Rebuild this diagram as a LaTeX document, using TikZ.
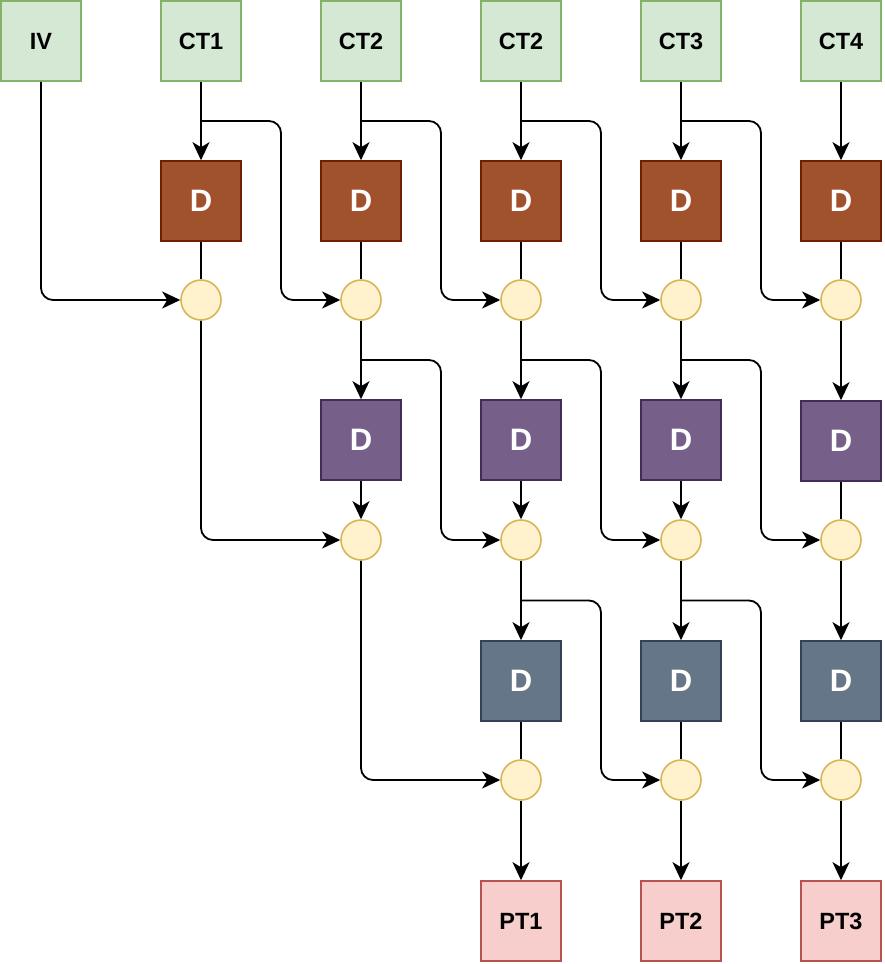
\documentclass[tikz,border=0pt]{standalone}
\usepackage{fontspec}
\setmainfont{Liberation Sans}
\usetikzlibrary{arrows.meta,calc}
\definecolor{gfill}{HTML}{D5E8D4}\definecolor{gline}{HTML}{82B366}
\definecolor{bfill}{HTML}{A0522D}\definecolor{bline}{HTML}{6D1F00}
\definecolor{pfill}{HTML}{76608A}\definecolor{pline}{HTML}{432D57}
\definecolor{sfill}{HTML}{647687}\definecolor{sline}{HTML}{314354}
\definecolor{yfill}{HTML}{FFF2CC}\definecolor{yline}{HTML}{D6B656}
\definecolor{rfill}{HTML}{F8CECC}\definecolor{rline}{HTML}{B85450}
\tikzset{
  box/.style={draw, line width=1.6pt, minimum size=80pt, inner sep=0pt, font=\fontsize{23.5}{26}\selectfont\bfseries},
  inbox/.style={box, fill=gfill, draw=gline},
  outbox/.style={box, fill=rfill, draw=rline},
  dbox/.style={box, text=white, font=\fontsize{31}{34}\selectfont\bfseries},
  dbrown/.style={dbox, fill=bfill, draw=bline},
  dpurple/.style={dbox, fill=pfill, draw=pline},
  dslate/.style={dbox, fill=sfill, draw=sline},
  xor/.style={circle, draw=yline, fill=yfill, line width=1.6pt, minimum size=40pt, inner sep=0pt},
  ln/.style={line width=1.8pt, rounded corners=12pt},
  arr/.style={ln, -{Stealth[length=18pt,width=17pt,inset=5pt]}},
}
\begin{document}
\begin{tikzpicture}[x=1pt,y=-1pt]
\useasboundingbox (0,0) rectangle (884,964);
% top row
\node[inbox] (iv) at (41,41) {IV};
\node[inbox] (ct1) at (201,41) {CT1};
\node[inbox] (ct2) at (361,41) {CT2};
\node[inbox] (ct3) at (521,41) {CT2};
\node[inbox] (ct4) at (681,41) {CT3};
\node[inbox] (ct5) at (841,41) {CT4};
% row 1
\foreach \i/\x in {1/201,2/361,3/521,4/681,5/841}{
  \node[dbrown] (d1\i) at (\x,201) {D};
  \node[xor] (c1\i) at (\x,300) {};
}
% row 2
\foreach \i/\x in {2/361,3/521,4/681}{
  \node[dpurple] (d2\i) at (\x,440) {D};
}
\node[dpurple] (d25) at (841,441) {D};
\foreach \i/\x in {2/361,3/521,4/681,5/841}{
  \node[xor] (c2\i) at (\x,540) {};
}
% row 3
\foreach \i/\x in {3/521,4/681,5/841}{
  \node[dslate] (d3\i) at (\x,681) {D};
  \node[xor] (c3\i) at (\x,780) {};
}
\node[outbox] (pt1) at (521,921) {PT1};
\node[outbox] (pt2) at (681,921) {PT2};
\node[outbox] (pt3) at (841,921) {PT3};

% top -> D row1
\draw[arr] (ct1) -- (d11);
\draw[arr] (ct2) -- (d12);
\draw[arr] (ct3) -- (d13);
\draw[arr] (ct4) -- (d14);
\draw[arr] (ct5) -- (d15);
% branches row 1
\coordinate (a1) at ($(ct1.south)!.5!(d11.north)$);
\coordinate (a2) at ($(ct2.south)!.5!(d12.north)$);
\coordinate (a3) at ($(ct3.south)!.5!(d13.north)$);
\coordinate (a4) at ($(ct4.south)!.5!(d14.north)$);
\draw[arr] (iv.south) |- (c11.west);
\draw[arr] (a1) -| ($(c11)!.5!(c12)$) -- (c12.west);
\draw[arr] (a2) -| ($(c12)!.5!(c13)$) -- (c13.west);
\draw[arr] (a3) -| ($(c13)!.5!(c14)$) -- (c14.west);
\draw[arr] (a4) -| ($(c14)!.5!(c15)$) -- (c15.west);
% D -> circle row1
\foreach \i in {1,...,5}{ \draw[ln] (d1\i) -- (c1\i); }
% circles row1 -> purple
\draw[arr] (c12) -- (d22);
\draw[arr] (c13) -- (d23);
\draw[arr] (c14) -- (d24);
\draw[arr] (c15) -- (d25);
\coordinate (b2) at ($(c12.south)!.5!(d22.north)$);
\coordinate (b3) at ($(c13.south)!.5!(d23.north)$);
\coordinate (b4) at ($(c14.south)!.5!(d24.north)$);
\draw[arr] (c11.south) |- (c22.west);
\draw[arr] (b2) -| ($(c22)!.5!(c23)$) -- (c23.west);
\draw[arr] (b3) -| ($(c23)!.5!(c24)$) -- (c24.west);
\draw[arr] (b4) -| ($(c24)!.5!(c25)$) -- (c25.west);
% purple -> circle row2
\draw[arr] (d22) -- (c22);
\draw[arr] (d23) -- (c23);
\draw[arr] (d24) -- (c24);
\draw[ln] (d25) -- (c25);
% circles row2 -> slate
\draw[arr] (c23) -- (d33);
\draw[arr] (c24) -- (d34);
\draw[arr] (c25) -- (d35);
\coordinate (e3) at ($(c23.south)!.5!(d33.north)$);
\coordinate (e4) at ($(c24.south)!.5!(d34.north)$);
\draw[arr] (c22.south) |- (c33.west);
\draw[arr] (e3) -| ($(c33)!.5!(c34)$) -- (c34.west);
\draw[arr] (e4) -| ($(c34)!.5!(c35)$) -- (c35.west);
% slate -> circle row3
\foreach \i in {3,4,5}{ \draw[ln] (d3\i) -- (c3\i); }
% circle row3 -> PT
\draw[arr] (c33) -- (pt1);
\draw[arr] (c34) -- (pt2);
\draw[arr] (c35) -- (pt3);
\end{tikzpicture}
\end{document}
